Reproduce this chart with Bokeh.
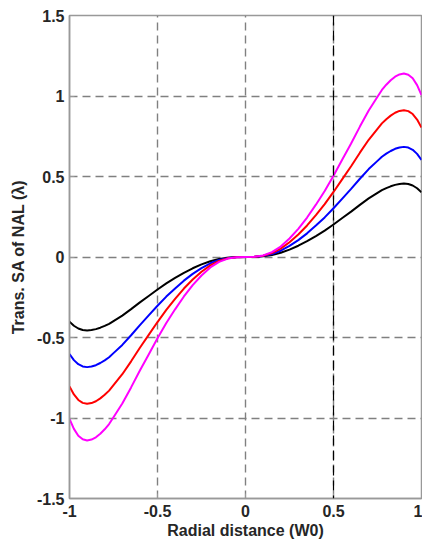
from bokeh.plotting import figure
from bokeh.models import Range1d, Span, FixedTicker
from bokeh.embed import file_html
from bokeh.resources import INLINE

# Radial distance (W0)
x = [-1.0, -0.975, -0.95, -0.925, -0.9, -0.875, -0.85, -0.825, -0.8, -0.775, -0.75,
     -0.7, -0.65, -0.6, -0.55, -0.5, -0.45, -0.4, -0.35, -0.3, -0.25, -0.2, -0.15, -0.1, -0.05,
     0.0,
     0.05, 0.1, 0.15, 0.2, 0.25, 0.3, 0.35, 0.4, 0.45, 0.5, 0.55, 0.6, 0.65, 0.7,
     0.75, 0.775, 0.8, 0.825, 0.85, 0.875, 0.9, 0.925, 0.95, 0.975, 1.0]

black = [-0.402, -0.427, -0.444, -0.453, -0.456, -0.4536, -0.448, -0.439, -0.428, -0.415, -0.398,
         -0.364, -0.324, -0.282, -0.242, -0.202, -0.164, -0.130, -0.098, -0.070, -0.046, -0.026, -0.012, -0.004, -0.0006,
         0.0,
         0.0006, 0.004, 0.012, 0.026, 0.046, 0.070, 0.098, 0.130, 0.164, 0.202, 0.242, 0.282, 0.324, 0.364,
         0.398, 0.415, 0.428, 0.439, 0.448, 0.4536, 0.456, 0.453, 0.444, 0.427, 0.402]

blue = [-0.603, -0.6405, -0.666, -0.6795, -0.684, -0.6804, -0.672, -0.6585, -0.642, -0.6225, -0.597,
        -0.546, -0.486, -0.423, -0.363, -0.303, -0.246, -0.195, -0.147, -0.105, -0.069, -0.039, -0.018, -0.006, -0.001,
        0.0,
        0.001, 0.006, 0.018, 0.039, 0.069, 0.105, 0.147, 0.195, 0.246, 0.303, 0.363, 0.423, 0.486, 0.546,
        0.597, 0.6225, 0.642, 0.6585, 0.672, 0.6804, 0.684, 0.6795, 0.666, 0.6405, 0.603]

red = [-0.804, -0.854, -0.888, -0.906, -0.912, -0.9072, -0.896, -0.878, -0.856, -0.830, -0.796,
       -0.728, -0.648, -0.564, -0.484, -0.404, -0.328, -0.260, -0.196, -0.140, -0.092, -0.052, -0.024, -0.008, -0.0012,
       0.0,
       0.0012, 0.008, 0.024, 0.052, 0.092, 0.140, 0.196, 0.260, 0.328, 0.404, 0.484, 0.564, 0.648, 0.728,
       0.796, 0.830, 0.856, 0.878, 0.896, 0.9072, 0.912, 0.906, 0.888, 0.854, 0.804]

magenta = [-1.005, -1.0675, -1.110, -1.1325, -1.140, -1.134, -1.120, -1.0975, -1.070, -1.0375, -0.995,
           -0.910, -0.810, -0.705, -0.605, -0.505, -0.410, -0.325, -0.245, -0.175, -0.115, -0.065, -0.030, -0.010, -0.0015,
           0.0,
           0.0015, 0.010, 0.030, 0.065, 0.115, 0.175, 0.245, 0.325, 0.410, 0.505, 0.605, 0.705, 0.810, 0.910,
           0.995, 1.0375, 1.070, 1.0975, 1.120, 1.134, 1.140, 1.1325, 1.110, 1.0675, 1.005]

x_ticks = [-1, -0.5, 0, 0.5, 1]
x_tick_labels = ["-1", "-0.5", "0", "0.5", "1"]
y_ticks = [-1.5, -1, -0.5, 0, 0.5, 1, 1.5]
y_tick_labels = ["-1.5", "-1", "-0.5", "0", "0.5", "1", "1.5"]
marker_x = 0.5

FONT = "Liberation Sans"
TEXT = "#262626"
AXIS = "#999999"
GRID = "#808080"

p = figure(width=422, height=544, output_backend="svg", toolbar_location=None,
           x_range=Range1d(-1, 1), y_range=Range1d(-1.5, 1.5),
           min_border_left=69, min_border_right=1, min_border_top=15, min_border_bottom=46)
p.background_fill_color = "white"
p.border_fill_color = "white"
p.outline_line_color = AXIS
p.outline_line_width = 1.5

for ax in (p.xaxis[0], p.yaxis[0]):
    ax.axis_line_color = AXIS
    ax.axis_line_width = 1.5
    ax.major_tick_line_color = AXIS
    ax.major_tick_in = 5
    ax.major_tick_out = 0
    ax.minor_tick_line_color = None
    ax.major_label_text_font = FONT
    ax.major_label_text_font_style = "bold"
    ax.major_label_text_font_size = "16px"
    ax.major_label_text_color = TEXT
    ax.axis_label_text_font = FONT
    ax.axis_label_text_font_style = "bold"
    ax.axis_label_text_font_size = "16px"
    ax.axis_label_text_color = TEXT

p.xaxis.ticker = FixedTicker(ticks=x_ticks)
p.xaxis.major_label_overrides = {t: l for t, l in zip(x_ticks, x_tick_labels)}
p.yaxis.ticker = FixedTicker(ticks=y_ticks)
p.yaxis.major_label_overrides = {t: l for t, l in zip(y_ticks, y_tick_labels)}
p.xaxis.axis_label = "Radial distance (W0)"
p.yaxis.axis_label = "Trans. SA of NAL (λ)"
p.xaxis.major_label_standoff = 6
p.xaxis.axis_label_standoff = 2
p.yaxis.major_label_standoff = 5
p.yaxis.axis_label_standoff = 7

for g in (p.xgrid[0], p.ygrid[0]):
    g.grid_line_color = GRID
    g.grid_line_dash = "8 5"
    g.grid_line_width = 1.4

p.add_layout(Span(location=marker_x, dimension="height", line_color="black",
                  line_dash="10 5", line_width=1.2))

p.line(x, black, line_color="black", line_width=2)
p.line(x, blue, line_color="blue", line_width=2)
p.line(x, red, line_color="red", line_width=2)
p.line(x, magenta, line_color="magenta", line_width=2)

open("out.html", "w").write(file_html(p, INLINE))
